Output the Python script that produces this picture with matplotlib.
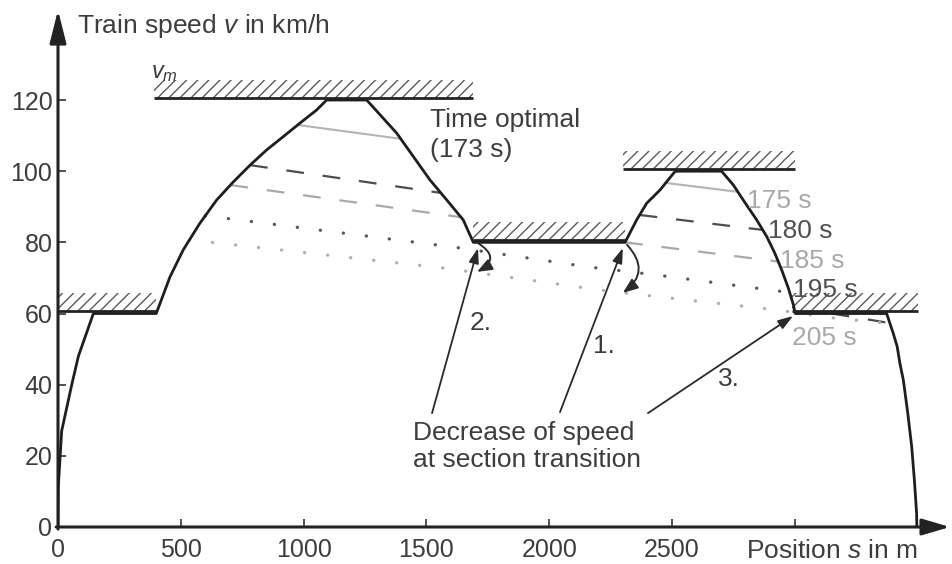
import matplotlib
matplotlib.use("Agg")
import matplotlib.pyplot as plt
from matplotlib.patches import FancyArrowPatch

plt.rcParams["font.family"] = ["Liberation Sans", "DejaVu Sans"]
plt.rcParams["mathtext.fontset"] = "custom"
plt.rcParams["mathtext.rm"] = "Liberation Sans"
plt.rcParams["mathtext.it"] = "Liberation Sans:italic"
plt.rcParams["hatch.linewidth"] = 1.0

# speed limit sections (m, km/h)
lim_from = [0, 390, 1690, 2300, 2990]
lim_to = [400, 1690, 2310, 3000, 3500]
lim_v = [60, 120, 80, 100, 60]

# time optimal run (173 s)
opt_s = [0, 1, 15, 56, 83, 144, 400, 456, 510, 578, 646, 714, 782, 850, 917,
         985, 1053, 1094, 1257, 1379, 1447, 1515, 1583, 1650, 1691, 2309, 2356,
         2397, 2451, 2512, 2525, 2702, 2750, 2790, 2845, 2886, 2919, 2947, 2974,
         2994, 3002, 3374, 3401, 3417, 3428, 3442, 3460, 3476, 3487, 3496, 3497]
opt_v = [0, 11, 27, 40, 48, 60, 60, 70.3, 77.9, 85.4, 91.9, 97.0, 101.7, 106.0, 109.7,
         113.5, 117.2, 120, 120, 110.7, 104.1, 97.5, 91.9, 86.3, 80, 80, 86.3,
         91.0, 94.7, 99.9, 100, 100, 96.1, 91.9, 86.3, 81.6, 76.9, 72.2, 67.1,
         62.5, 60, 60, 54.4, 50.7, 46.0, 41.3, 32.0, 22.6, 13.2, 3.9, 0]

# coasting parts of the slower runs (where they leave the optimal curve)
c175_s = [[975, 1395], [2474, 2768]]
c175_v = [[113.0, 109.1], [96.7, 94.2]]
c180_s = [[782, 1559], [2368, 2869], [3150, 3388]]
c180_v = [[101.7, 93.9], [87.7, 83.5], [60, 57.3]]
c185_s = [[702, 1638], [2309, 2933]]
c185_v = [[96.1, 87.1], [80, 74.6]]
c195_s = [[600, 1608, 2158, 2439, 2979]]
c195_v = [[87.5, 78.7, 73.1, 70.8, 65.9]]
c205_s = [[535, 1568, 2207, 2382, 2928, 3150, 3385]]
c205_v = [[80.7, 72.8, 66.6, 65.2, 61.0, 58.8, 57.2]]

xticks = [0, 500, 1000, 1500, 2000, 2500, 3000]
xlabels = ["0", "500", "1000", "1500", "2000", "2500", ""]
yticks = [0, 20, 40, 60, 80, 100, 120]

txt = "#3d3d3d"
light = "#a8a8a8"
dark = "#505050"

fig = plt.figure(figsize=(9.52, 5.64), dpi=100)
ax = fig.add_axes([58 / 952, 37 / 564, 892 / 952, 517 / 564])
ax.set_xlim(0, 3632)
ax.set_ylim(0, 145.3)
for sp in ax.spines.values():
    sp.set_visible(False)

# axes with arrow heads
ax.annotate("", xy=(0, 1), xytext=(0, -0.004), xycoords="axes fraction",
            arrowprops=dict(arrowstyle="-|>,head_length=2.0,head_width=0.5",
                            lw=2.2, color="#222222", shrinkA=0, shrinkB=0,
                            mutation_scale=10))
ax.annotate("", xy=(1, 0), xytext=(-0.002, 0), xycoords="axes fraction",
            arrowprops=dict(arrowstyle="-|>,head_length=1.7,head_width=0.5",
                            lw=2.2, color="#222222", shrinkA=0, shrinkB=0,
                            mutation_scale=10))

ax.set_xticks(xticks)
ax.set_xticklabels(xlabels)
ax.set_yticks(yticks)
ax.tick_params(direction="in", length=6, width=1.2, color="#333333",
               labelsize=18, labelcolor=txt)
ax.tick_params(axis="x", pad=8)
ax.tick_params(axis="y", pad=4)

# hatched speed limits
off = 0.7
for a, b, v in zip(lim_from, lim_to, lim_v):
    ax.fill_between([a, b], v + off, v + off + 5, hatch="///", facecolor="none",
                    edgecolor="#5a5a5a", linewidth=0, zorder=1)
    ax.plot([a, b], [v + off, v + off], color="#222222", lw=2.0, zorder=4,
            solid_capstyle="butt")

# slower runs
for s, v in zip(c175_s, c175_v):
    ax.plot(s, v, color="#b4b4b4", lw=1.5, zorder=2)
for s, v in zip(c180_s, c180_v):
    ax.plot(s, v, color="#4d4d4d", lw=1.6, dashes=(8, 8.5), zorder=2)
for s, v in zip(c185_s, c185_v):
    ax.plot(s, v, color="#a9a9a9", lw=1.6, dashes=(8, 8.5), zorder=2)
for s, v in zip(c195_s, c195_v):
    ax.plot(s, v, color="#595959", lw=2.4, dashes=(0.05, 6.9),
            dash_capstyle="round", zorder=2)
for s, v in zip(c205_s, c205_v):
    ax.plot(s, v, color="#b0b0b0", lw=2.4, dashes=(0.05, 6.9),
            dash_capstyle="round", zorder=2)

ax.plot(opt_s, opt_v, color="#1e1e1e", lw=2.0, solid_joinstyle="round", zorder=3)

# labels
fs = 19
ax.text(379, 126.2, "$v_m$", fontsize=17, color=txt, va="baseline")
ax.text(1515, 112.4, "Time optimal", fontsize=fs, color=txt, va="baseline")
ax.text(1515, 104.0, "(173 s)", fontsize=fs, color=txt, va="baseline")
ax.text(2805, 89.7, "175 s", fontsize=fs, color=light, va="baseline")
ax.text(2891, 81.2, "180 s", fontsize=fs, color=dark, va="baseline")
ax.text(2940, 72.8, "185 s", fontsize=fs, color=light, va="baseline")
ax.text(2993, 64.6, "195 s", fontsize=fs, color=dark, va="baseline")
ax.text(2989, 51.2, "205 s", fontsize=fs, color=light, va="baseline")
ax.text(1678, 55.4, "2.", fontsize=fs, color=txt, va="baseline")
ax.text(2178, 48.9, "1.", fontsize=fs, color=txt, va="baseline")
ax.text(2687, 39.6, "3.", fontsize=fs, color=txt, va="baseline")
ax.text(1445, 24.5, "Decrease of speed", fontsize=fs, color=txt, va="baseline")
ax.text(1445, 16.9, "at section transition", fontsize=fs, color=txt, va="baseline")

# pointer arrows
aprops = dict(arrowstyle="-|>,head_length=0.9,head_width=0.3", lw=1.3,
              color="#2a2a2a", shrinkA=0, shrinkB=0, mutation_scale=10)
ax.annotate("", xy=(1710, 78.4), xytext=(1523, 32.0), arrowprops=aprops)
ax.annotate("", xy=(2300, 78.4), xytext=(2044, 32.3), arrowprops=aprops)
ax.annotate("", xy=(2993, 59.3), xytext=(2402, 32.0), arrowprops=aprops)

# curved arrows at section transitions
for pa, pb, rad in [((1710, 79.8), (1706, 71.7), -0.85),
                    ((2317, 79.3), (2300, 65.8), -0.55)]:
    ax.add_patch(FancyArrowPatch(pa, pb, connectionstyle=f"arc3,rad={rad}",
                                 arrowstyle="-|>,head_length=0.9,head_width=0.35",
                                 mutation_scale=10, lw=1.4, color="#2a2a2a",
                                 shrinkA=0, shrinkB=0, zorder=5))

fig.text(77 / 952, 1 - 33 / 564, "Train speed $v$ in km/h", fontsize=fs,
         color=txt, va="baseline")
fig.text(746 / 952, 1 - 558 / 564, "Position $s$ in m", fontsize=fs,
         color=txt, va="baseline")

fig.savefig("out.png", dpi=100)
